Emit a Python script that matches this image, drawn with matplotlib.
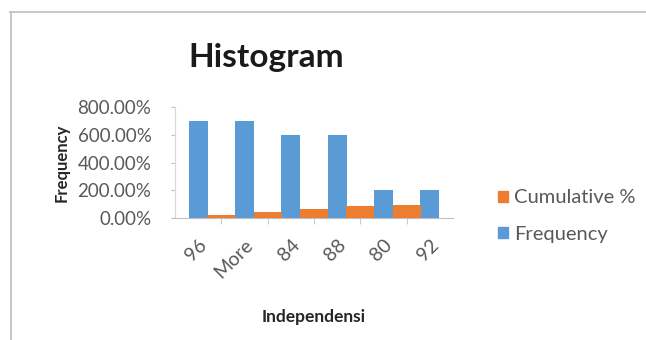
import numpy as np
import matplotlib
matplotlib.use('Agg')
import matplotlib.pyplot as plt
from matplotlib.lines import Line2D
from matplotlib.patches import Patch
from matplotlib.ticker import FuncFormatter, FixedLocator

plt.rcParams['font.family'] = ['Lato', 'DejaVu Sans']

# histogram table as Excel wrote it (bins sorted by frequency)
bins = ['96', 'More', '84', '88', '80', '92']
frequency = [7, 7, 6, 6, 2, 2]
cumulative_pct = [23.33, 46.67, 66.67, 86.67, 93.33, 100.00]

blue = '#5B9BD5'
orange = '#ED7D31'
grey_text = '#595959'

fig = plt.figure(figsize=(6.46, 3.4), dpi=100)
ax = fig.add_axes([175 / 646, 1 - 218 / 340, 278 / 646, 111 / 340])

x = np.arange(len(bins))
# Excel formats the frequency column as percent, so 7 shows as 700%
ax.bar(x, np.array(frequency) * 100, width=0.41, color=blue, zorder=2)
# the cumulative series sits shifted half a bin; its last bar falls outside the plot
ax.bar(x[:-1] + 0.5, cumulative_pct[:-1], width=0.6, color=orange, zorder=3)

ax.set_xlim(-0.5, len(bins) - 0.5)
ax.set_ylim(0, 800)
ax.set_yticks([0, 200, 400, 600, 800])
ax.yaxis.set_major_formatter(FuncFormatter(lambda v, p: f'{v:.2f}%'))
ax.tick_params(axis='y', length=3, color='#BFBFBF', labelsize=13.5,
               labelcolor=grey_text, pad=14)

ax.set_xticks(x)
ax.set_xticklabels(bins, rotation=45, ha='right', rotation_mode='anchor')
ax.xaxis.set_minor_locator(FixedLocator(x[:-1] + 0.5))
ax.tick_params(axis='x', which='major', length=0, labelsize=14,
               labelcolor=grey_text, pad=13)
ax.tick_params(axis='x', which='minor', length=4, color='#BFBFBF')

for side in ['top', 'right']:
    ax.spines[side].set_visible(False)
ax.spines['left'].set_color('#D9D9D9')
ax.spines['bottom'].set_color('#BFBFBF')

ax.set_ylabel('Frequency', fontsize=12, fontweight='bold', color='#262626', labelpad=6)
ax.set_xlabel('Independensi', fontsize=12.5, fontweight='bold', color='#262626', labelpad=20)

fig.text(266 / 646, 1 - 57 / 340, 'Histogram', ha='center', va='center',
         fontsize=24, fontweight='bold', color='#1a1a1a')

handles = [Patch(color=orange), Patch(color=blue)]
fig.legend(handles, ['Cumulative %', 'Frequency'], loc='center left',
           bbox_to_anchor=(480 / 646, 1 - 216 / 340), frameon=False,
           fontsize=14.5, labelcolor=grey_text, handlelength=0.5, handleheight=0.5,
           handletextpad=0.3, labelspacing=0.95)

# chart area border (cropped at right and bottom)
fig.add_artist(Line2D([10 / 646, 1], [1 - 12 / 340, 1 - 12 / 340],
                      transform=fig.transFigure, color='#BDBDBD', lw=1.2))
fig.add_artist(Line2D([11 / 646, 11 / 646], [0, 1 - 12 / 340],
                      transform=fig.transFigure, color='#BDBDBD', lw=1.2))

fig.savefig('out.png', dpi=100)
